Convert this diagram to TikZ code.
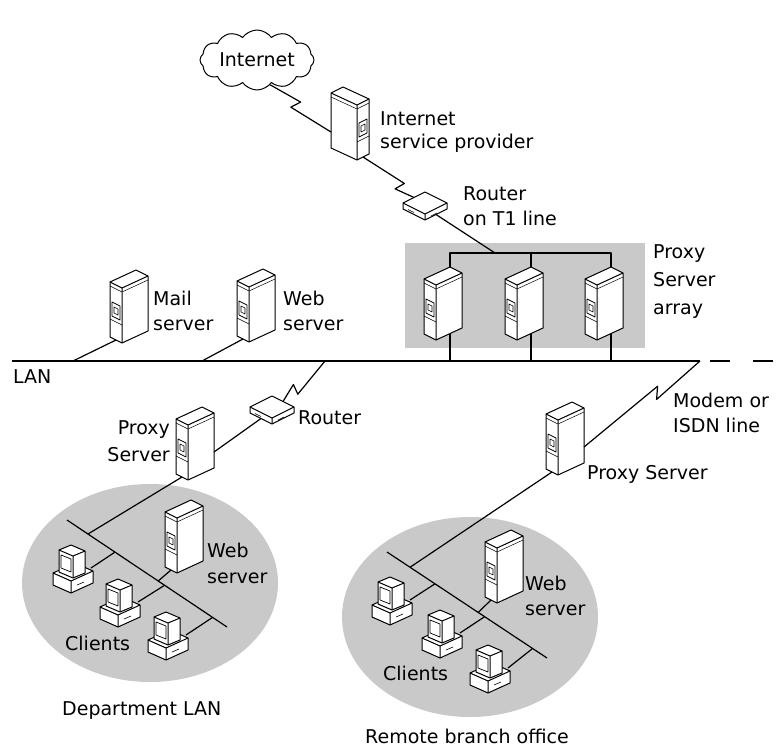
\documentclass[tikz,border=0pt]{standalone}
\usepackage{fontspec}
\setmainfont{DejaVu Sans}
\usetikzlibrary{calc,shapes.symbols}

% multi-line label bodies: first row carries the baseline
\newcommand\lbltxt[2]{\fontsize{19}{#1}\selectfont\begin{tabular}[t]{@{}l@{}}#2\end{tabular}}
\newcommand\lbltxtr[2]{\fontsize{19}{#1}\selectfont\begin{tabular}[t]{@{}r@{}}#2\end{tabular}}

\tikzset{
  wire/.style={line width=1.2pt},
  lanfill/.style={fill=black!21},
  icon/.style={draw, fill=white, line width=1pt, line join=round},
  lbl/.style={anchor=base west, inner sep=0pt, font=\fontsize{19}{25}\selectfont},
  lblr/.style={anchor=base east, inner sep=0pt, font=\fontsize{19}{25}\selectfont},
  % leased-line style connector with a lightning kink at fraction #1
  zig/.style={to path={
    -- ($(\tikztostart)!#1+0.03!(\tikztotarget)!5pt!90:(\tikztotarget)$)
    -- ($(\tikztostart)!#1-0.03!(\tikztotarget)!5pt!-90:(\tikztotarget)$)
    -- (\tikztotarget)}},
  zig/.default=0.5,
  % tower server, origin at the bottom front corner
  pics/server/.style={code={
    \path[icon] (0,0) -- (-12,-6) -- (-12,-61) -- (14,-73) -- (26,-67) -- (26,-12) -- cycle;
    \draw[line width=1pt] (-12,-61) -- (0,-55) -- (26,-67) (0,-55) -- (0,0);
    \draw[line width=0.5pt] (-12,-57) -- (0,-51) -- (26,-63);
    \draw[line width=0.8pt] (-2,-23) -- (-10,-27) -- (-10,-41) -- (-2,-37) -- cycle;
    \draw[line width=0.6pt] (-4,-28) -- (-8,-30) -- (-8,-36) -- (-4,-34) -- cycle;
    \draw[line width=0.6pt] (0,-18) -- (-12,-24);
    \coordinate (-out) at (-6,-3);
    \coordinate (-in) at (26,-28);
    \coordinate (-top) at (14,-73);
    \coordinate (-bot) at (14,-6.5);
  }},
  % flat router box, origin at the centre of its top face
  pics/router/.style={code={
    \path[icon] (-22,0) -- (0,-11) -- (22,0) -- (22,6) -- (0,17) -- (-22,6) -- cycle;
    \draw[line width=1pt] (-22,0) -- (0,11) -- (22,0) (0,11) -- (0,17);
    \draw[line width=0.6pt] (-17,6.5) -- (-11,9.5) (6,13) -- (12,10);
    \coordinate (-nw) at (-11,-5.5);
    \coordinate (-ne) at (11,-5.5);
    \coordinate (-sw) at (-11,11.5);
    \coordinate (-se) at (11,11.5);
  }},
  % desktop client, origin at the bottom front corner of the base
  pics/client/.style={code={
    \path[icon] (0,0) -- (-18,-8) -- (-18,-20) -- (4,-30) -- (22,-22) -- (22,-10) -- cycle;
    \draw[line width=1pt] (-18,-20) -- (0,-12) -- (22,-22) (0,-12) -- (0,0);
    \draw[line width=0.6pt] (6,-8) -- (13,-11);
    \path[icon] (2,-15) -- (-12,-21) -- (-12,-43) -- (0,-48) -- (14,-42) -- (14,-20) -- cycle;
    \draw[line width=1pt] (-12,-43) -- (2,-37) -- (14,-42) (2,-37) -- (2,-15);
    \draw[line width=0.7pt] (0,-21) -- (-10,-25) -- (-10,-38) -- (0,-34) -- cycle;
    \coordinate (-port) at (20,-25);
  }},
}

\begin{document}
\begin{tikzpicture}[x=1pt,y=-1pt,line join=round]
\useasboundingbox (0,0) rectangle (776,747);

% ---- shaded areas ----
\fill[lanfill] (405,243) rectangle (645,348);
\fill[lanfill] (150,583) ellipse [x radius=128, y radius=99];
\fill[lanfill] (470,617) ellipse [x radius=128, y radius=100];

% ---- backbone LAN ----
\coordinate (lanL) at (12,361);
\coordinate (lanR) at (700,361);
\coordinate (lanD) at (710,361);
\coordinate (lanE) at (776,361);
\draw[wire] (lanL) -- (lanR);
\draw[wire, dash pattern=on 20pt off 23pt] (lanD) -- (lanE);
\coordinate (tapM) at (73,361);
\coordinate (tapW) at (202,361);
\coordinate (tapR) at (325,361);
\coordinate (bar) at (495,253);

% department and branch segments
\coordinate (db1) at (67,520);
\coordinate (db2) at (227,627);
\coordinate (rb1) at (387,552);
\coordinate (rb2) at (547,658);
\draw[wire] (db1) -- (db2);
\draw[wire] (rb1) -- (rb2);
\coordinate (dtP) at ($(db1)!0.131!(db2)$);
\coordinate (dt1) at ($(db1)!0.30!(db2)$);
\coordinate (dtW) at ($(db1)!0.57!(db2)$);
\coordinate (dt2) at ($(db1)!0.61!(db2)$);
\coordinate (dt3) at ($(db1)!0.91!(db2)$);
\coordinate (rtP) at ($(rb1)!0.144!(rb2)$);
\coordinate (rt1) at ($(rb1)!0.30!(rb2)$);
\coordinate (rtW) at ($(rb1)!0.57!(rb2)$);
\coordinate (rt2) at ($(rb1)!0.61!(rb2)$);
\coordinate (rt3) at ($(rb1)!0.91!(rb2)$);

% ---- Internet cloud ----
\node[cloud, draw, fill=white, line width=1pt, cloud puffs=12, cloud puff arc=110,
      cloud ignores aspect, minimum width=114pt, minimum height=60pt, inner sep=0pt,
      font=\fontsize{19}{25}\selectfont] (cloud) at (257,60) {Internet};

% ---- devices ----
\pic[xscale=-1] (isp) at (357,160) {server};
\pic (t1) at (425,203) {router};
\pic (pa1) at (436,340) {server};
\pic (pa2) at (517,340) {server};
\pic (pa3) at (597,340) {server};
\pic (mail) at (122,343) {server};
\pic (web) at (249,342) {server};
\pic (drt) at (272,407) {router};
\pic (dpx) at (188,480) {server};
\pic (dweb) at (177,573) {server};
\pic (dc1) at (71,593) {client};
\pic (dc2) at (118,627) {client};
\pic (dc3) at (166,660) {client};
\pic (rpx) at (558,475) {server};
\pic (rweb) at (497,603) {server};
\pic (rc1) at (390,625) {client};
\pic (rc2) at (440,658) {client};
\pic (rc3) at (488,693) {client};

% ---- connectors ----
\draw[wire] (cloud.-62) to[zig=0.42] (isp-in);
\draw[wire] (isp-out) to[zig=0.72] (t1-nw);
\draw[wire] (t1-se) -- (bar);
\draw[wire] (pa1-top) -- (pa1-top |- bar) -- (pa3-top |- bar) -- (pa3-top);
\draw[wire] (pa2-top) -- (pa2-top |- bar);
\draw[wire] (pa1-bot) -- (pa1-bot |- lanL);
\draw[wire] (pa2-bot) -- (pa2-bot |- lanL);
\draw[wire] (pa3-bot) -- (pa3-bot |- lanL);
\draw[wire] (mail-out) -- (tapM);
\draw[wire] (web-out) -- (tapW);
\draw[wire] (tapR) to[zig=0.7] (drt-ne);
\draw[wire] (drt-sw) -- (dpx-in);
\draw[wire] (dpx-out) -- (dtP);
\draw[wire] (dweb-out) -- (dtW);
\draw[wire] (dc1-port) -- (dt1);
\draw[wire] (dc2-port) -- (dt2);
\draw[wire] (dc3-port) -- (dt3);
\draw[wire] (lanR) to[zig=0.37] (rpx-in);
\draw[wire] (rpx-out) -- (rtP);
\draw[wire] (rweb-out) -- (rtW);
\draw[wire] (rc1-port) -- (rt1);
\draw[wire] (rc2-port) -- (rt2);
\draw[wire] (rc3-port) -- (rt3);

% ---- labels ----
\node[lbl] (lisp) at (380,125) {\lbltxt{23}{Internet\\service provider}};
\node[lbl] (lt1) at (463,200) {\lbltxt{25}{Router\\on T1 line}};
\node[lbl] (lpa) at (653,258) {\lbltxt{28}{Proxy\\Server\\array}};
\node[lbl] (lmail) at (153,305) {\lbltxt{25}{Mail\\server}};
\node[lbl] (lweb) at (283,305) {\lbltxt{25}{Web\\server}};
\node[lbl] (llan) at (13,383) {LAN};
\node[lbl] (ldrt) at (298,424) {Router};
\node[lblr] (ldpx) at (170,434) {\lbltxtr{27}{Proxy\\Server}};
\node[lbl] (lmod) at (673,407) {\lbltxt{25}{Modem or\\ISDN line}};
\node[lbl] (lrpx) at (587,479) {Proxy Server};
\node[lbl] (ldweb) at (207,557) {\lbltxt{26}{Web\\server}};
\node[lbl] (ldcl) at (65,650) {Clients};
\node[lbl] (ldept) at (62,715) {Department LAN};
\node[lbl] (lrweb) at (525,590) {\lbltxt{25}{Web\\server}};
\node[lbl] (lrcl) at (383,680) {Clients};
\node[lbl] (lrem) at (365,743) {Remote branch office};
\end{tikzpicture}
\end{document}
